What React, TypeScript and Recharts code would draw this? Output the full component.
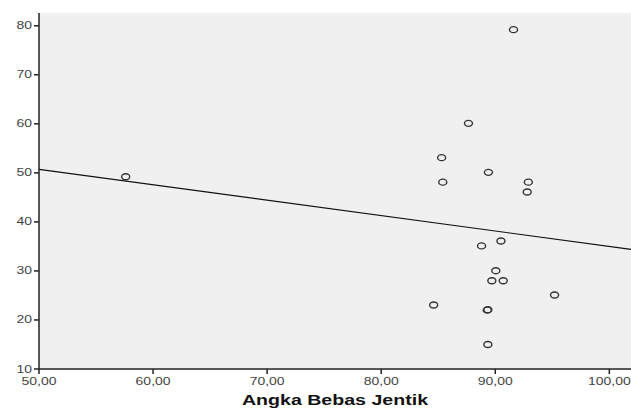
import {
  ScatterChart,
  Scatter,
  XAxis,
  YAxis,
  CartesianGrid,
  ReferenceLine,
} from "recharts";

// Angka Bebas Jentik (x) vs. cases (y)
const abj = [91.6, 87.65, 85.3, 85.4, 89.4, 92.9, 92.8, 57.6, 90.5, 88.8, 90.05, 89.7, 90.7, 84.6, 89.3, 89.35, 95.2, 89.35];
const kasus = [79.2, 60.1, 53.1, 48.1, 50.1, 48.1, 46.1, 49.2, 36.1, 35.1, 30.05, 28, 28, 23.05, 22, 22.1, 25.1, 15];

const xTicks = [50, 60, 70, 80, 90, 100];
const yTicks = [10, 20, 30, 40, 50, 60, 70, 80];

// fit line end points
const fitX = [50, 101.9];
const fitY = [50.7, 34.4];

const data = abj.map((x, i) => ({ x, y: kasus[i] }));

const STRETCH = 1.4;

function XTick(props: any) {
  const { x, y, payload } = props;
  const label = Number(payload.value).toFixed(2).replace(".", ",");
  return (
    <g transform={`translate(${x},${y})`}>
      <text
        transform={`scale(${STRETCH},1)`}
        dy={9}
        textAnchor="middle"
        fontSize={10}
        fill="#444"
        fontFamily="Liberation Sans, Arial, sans-serif"
      >
        {label}
      </text>
    </g>
  );
}

function YTick(props: any) {
  const { x, y, payload } = props;
  return (
    <g transform={`translate(${x},${y})`}>
      <text
        transform={`scale(${STRETCH},1)`}
        dy={3.5}
        textAnchor="end"
        fontSize={10}
        fill="#444"
        fontFamily="Liberation Sans, Arial, sans-serif"
      >
        {payload.value}
      </text>
    </g>
  );
}

function Dot(props: any) {
  const { cx, cy } = props;
  return (
    <ellipse cx={cx} cy={cy} rx={4} ry={3} fill="none" stroke="#333" strokeWidth={1.4} />
  );
}

function AxisTitle(props: any) {
  const { viewBox } = props;
  const cx = viewBox.x + viewBox.width / 2;
  return (
    <g transform={`translate(${cx},405)`}>
      <text
        transform={`scale(${STRETCH},1)`}
        textAnchor="middle"
        fontSize={14}
        fontWeight="bold"
        fill="#111"
        fontFamily="Liberation Sans, Arial, sans-serif"
      >
        Angka Bebas Jentik
      </text>
    </g>
  );
}

export default function App() {
  return (
    <div style={{ position: "absolute", left: 0, top: 0, background: "#fff" }}>
      <ScatterChart
        width={631}
        height={410}
        margin={{ top: 13, right: 0, bottom: 0, left: 0 }}
      >
        <CartesianGrid fill="#f0f0f0" horizontal={false} vertical={false} />
        <XAxis
          type="number"
          dataKey="x"
          domain={[50, 101.9]}
          ticks={xTicks}
          height={41}
          tickSize={5}
          tick={<XTick />}
          axisLine={{ stroke: "#222", strokeWidth: 1.5 }}
          tickLine={{ stroke: "#222", strokeWidth: 1.5 }}
          label={<AxisTitle />}
          allowDataOverflow
        />
        <YAxis
          type="number"
          dataKey="y"
          domain={[10, 82.6]}
          ticks={yTicks}
          width={39}
          tickSize={5}
          tick={<YTick />}
          axisLine={{ stroke: "#222", strokeWidth: 1.5 }}
          tickLine={{ stroke: "#222", strokeWidth: 1.5 }}
          allowDataOverflow
        />
        <ReferenceLine
          segment={[
            { x: fitX[0], y: fitY[0] },
            { x: fitX[1], y: fitY[1] },
          ]}
          stroke="#111"
          strokeWidth={1.2}
        />
        <Scatter data={data} shape={<Dot />} isAnimationActive={false} />
      </ScatterChart>
    </div>
  );
}
